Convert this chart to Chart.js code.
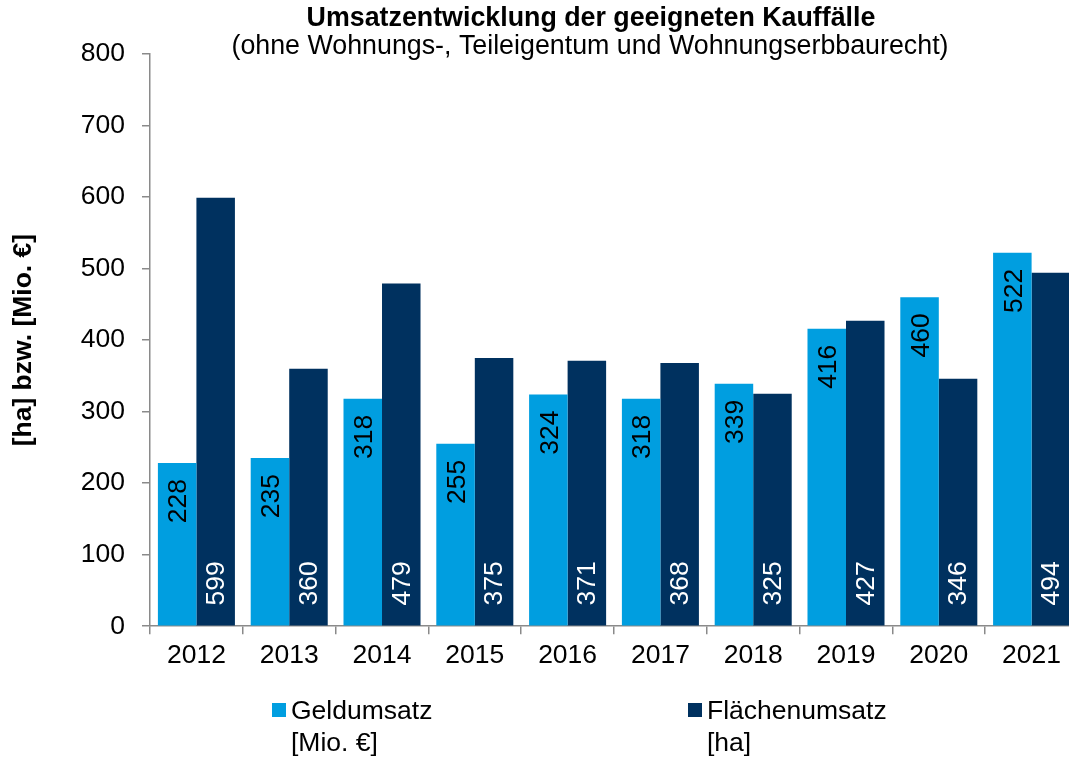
<!DOCTYPE html>
<html lang="de">
<head>
  <meta charset="UTF-8">
  <title>Umsatzentwicklung der geeigneten Kauffälle</title>
  <script src="https://cdn.jsdelivr.net/npm/chart.js"></script>
  <style>
    html, body { margin: 0; padding: 0; background: #fff; overflow: hidden; }
    #wrap { position: relative; width: 1100px; height: 760px; }
  </style>
</head>
<body>

  <div id="wrap">
    <canvas id="umsatzChart"></canvas>
  </div>

  <script>
    // Daten
    const categories = ['2012', '2013', '2014', '2015', '2016', '2017', '2018', '2019', '2020', '2021'];
    const geldumsatz = [228, 235, 318, 255, 324, 318, 339, 416, 460, 522];
    const flaechenumsatz = [599, 360, 479, 375, 371, 368, 325, 427, 346, 494];
    const yTicks = [0, 100, 200, 300, 400, 500, 600, 700, 800];

    const seriesNames = ['Geldumsatz', 'Flächenumsatz'];
    const seriesUnits = ['[Mio. €]', '[ha]'];
    const titleText = 'Umsatzentwicklung der geeigneten Kauffälle';
    const subtitleText = '(ohne Wohnungs-, Teileigentum und Wohnungserbbaurecht)';
    const yAxisTitle = '[ha] bzw. [Mio. €]';

    const FONT = 'Arial, "Liberation Sans", sans-serif';
    const colors = ['#009EE0', '#00315F'];
    const axisColor = '#8a8a8a';

    // Titel oben
    const titlePlugin = {
      id: 'titlePlugin',
      afterDraw(chart) {
        const c = chart.ctx;
        c.save();
        c.fillStyle = '#000';
        c.textAlign = 'center';
        c.textBaseline = 'middle';
        c.font = 'bold 26.8px ' + FONT;
        c.fillText(titleText, 591, 19);
        c.font = '26.8px ' + FONT;
        c.fillText(subtitleText, 590, 47);
        c.restore();
      }
    };

    // Werte in den Balken (gedreht)
    const barLabels = {
      id: 'barLabels',
      afterDatasetsDraw(chart) {
        const c = chart.ctx;
        c.save();
        c.font = '26.5px ' + FONT;
        c.textBaseline = 'middle';
        chart.data.datasets.forEach((ds, i) => {
          chart.getDatasetMeta(i).data.forEach((bar, j) => {
            c.save();
            if (i === 0) {
              c.translate(bar.x + 2, bar.y + 16);
              c.rotate(-Math.PI / 2);
              c.textAlign = 'right';
              c.fillStyle = '#000';
            } else {
              c.translate(bar.x + 1, bar.base - 20);
              c.rotate(-Math.PI / 2);
              c.textAlign = 'left';
              c.fillStyle = '#fff';
            }
            c.fillText(String(ds.data[j]), 0, 0);
            c.restore();
          });
        });
        c.restore();
      }
    };

    // Legende unten, zweizeilig
    const legendPlugin = {
      id: 'legendPlugin',
      afterDraw(chart) {
        const c = chart.ctx;
        const xs = [272, 688];
        c.save();
        c.font = '26.5px ' + FONT;
        c.textBaseline = 'middle';
        c.textAlign = 'left';
        seriesNames.forEach((name, i) => {
          c.fillStyle = colors[i];
          c.fillRect(xs[i], 703, 14, 14);
          c.fillStyle = '#000';
          c.fillText(name, xs[i] + 19, 712);
          c.fillText(seriesUnits[i], xs[i] + 19, 744);
        });
        c.restore();
      }
    };

    const ctx = document.getElementById('umsatzChart').getContext('2d');
    const umsatzChart = new Chart(ctx, {
      type: 'bar',
      data: {
        labels: categories,
        datasets: [
          {
            label: seriesNames[0],
            data: geldumsatz,
            backgroundColor: colors[0],
            borderWidth: 0,
            categoryPercentage: 0.83,
            barPercentage: 1.0
          },
          {
            label: seriesNames[1],
            data: flaechenumsatz,
            backgroundColor: colors[1],
            borderWidth: 0,
            categoryPercentage: 0.83,
            barPercentage: 1.0
          }
        ]
      },
      options: {
        responsive: true,
        maintainAspectRatio: false,
        animation: false,
        layout: {
          padding: { top: 54, left: 8, right: 22, bottom: 82 }
        },
        plugins: {
          legend: { display: false },
          tooltip: { enabled: false },
          title: { display: false }
        },
        scales: {
          x: {
            grid: {
              display: true,
              offset: true,
              drawOnChartArea: false,
              drawTicks: true,
              tickLength: 8,
              color: axisColor,
              lineWidth: 1.5
            },
            border: { display: true, color: axisColor, width: 1.5 },
            ticks: {
              color: '#000',
              padding: 6,
              maxRotation: 0,
              font: { family: FONT, size: 26.5 }
            }
          },
          y: {
            min: 0,
            max: 800,
            afterBuildTicks(scale) {
              scale.ticks = yTicks.map(v => ({ value: v }));
            },
            grid: {
              display: true,
              drawOnChartArea: false,
              drawTicks: true,
              tickLength: 8,
              color: axisColor,
              lineWidth: 1.5
            },
            border: { display: true, color: axisColor, width: 1.5 },
            ticks: {
              color: '#000',
              padding: 17,
              font: { family: FONT, size: 26.5 }
            },
            title: {
              display: true,
              text: yAxisTitle,
              color: '#000',
              font: { family: FONT, size: 26.5, weight: 'bold' },
              padding: { top: 0, bottom: 24 }
            }
          }
        }
      },
      plugins: [barLabels, titlePlugin, legendPlugin]
    });
  </script>
</body>
</html>
